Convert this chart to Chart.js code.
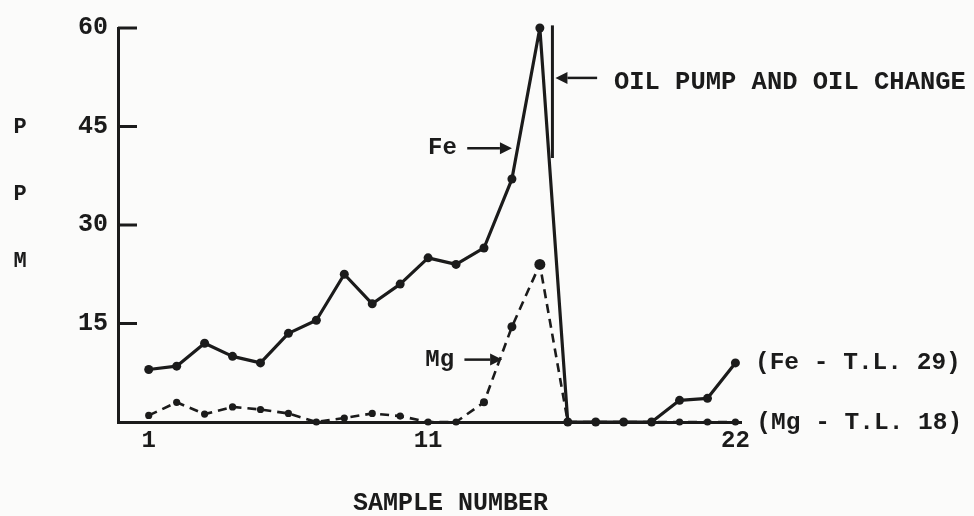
<!DOCTYPE html>
<html>
<head>
<meta charset="utf-8">
<title>Fe and Mg by sample</title>
<script src="https://cdn.jsdelivr.net/npm/chart.js@4.4.0/dist/chart.umd.min.js"></script>
<style>
  html, body { margin: 0; padding: 0; background: #fbfbfa; }
  canvas { display: block; }
</style>
</head>
<body>
<canvas id="ppmChart" width="974" height="516"></canvas>
<script>
  // Sample numbers and readings (ppm)
  const samples  = [1, 2, 3, 4, 5, 6, 7, 8, 9, 10, 11, 12, 13, 14, 15, 16, 17, 18, 19, 20, 21, 22];
  const feValues = [8, 8.5, 12, 10, 9, 13.5, 15.5, 22.5, 18, 21, 25, 24, 26.5, 37, 60, 0, 0, 0, 0, 3.3, 3.6, 9];
  const mgValues = [1, 3, 1.2, 2.3, 1.9, 1.3, 0, 0.6, 1.3, 0.9, 0, 0, 3, 14.5, 24, 0, 0, 0, 0, 0, 0, 0];
  const yTicks = [15, 30, 45, 60];
  const xTicks = [1, 11, 22];

  const ink = '#1b1b1b';
  const mono = '"Liberation Mono", "DejaVu Sans Mono", monospace';

  const toPoints = vals => samples.map((s, i) => ({ x: s, y: vals[i] }));

  // filled arrow head at (x2, y2)
  function arrow(ctx, x1, y1, x2, y2) {
    const ang = Math.atan2(y2 - y1, x2 - x1);
    const len = 12, half = 6;
    ctx.beginPath();
    ctx.moveTo(x1, y1);
    ctx.lineTo(x2 - Math.cos(ang) * len, y2 - Math.sin(ang) * len);
    ctx.stroke();
    ctx.beginPath();
    ctx.moveTo(x2, y2);
    ctx.lineTo(x2 - Math.cos(ang) * len - Math.sin(ang) * half, y2 - Math.sin(ang) * len + Math.cos(ang) * half);
    ctx.lineTo(x2 - Math.cos(ang) * len + Math.sin(ang) * half, y2 - Math.sin(ang) * len - Math.cos(ang) * half);
    ctx.closePath();
    ctx.fill();
  }

  // inner tick marks, labels, arrows and the oil change marker
  const notes = {
    id: 'notes',
    afterDraw(chart) {
      const { ctx, scales: { x, y }, chartArea } = chart;
      ctx.save();
      ctx.strokeStyle = ink;
      ctx.fillStyle = ink;
      ctx.lineCap = 'butt';

      // y ticks point into the plot
      ctx.lineWidth = 3;
      yTicks.forEach(v => {
        const py = y.getPixelForValue(v);
        ctx.beginPath();
        ctx.moveTo(chartArea.left, py);
        ctx.lineTo(chartArea.left + 19, py);
        ctx.stroke();
      });

      // oil pump / oil change bracket
      const bx = x.getPixelForValue(15.45);
      ctx.lineWidth = 3;
      ctx.beginPath();
      ctx.moveTo(bx, y.getPixelForValue(60.4));
      ctx.lineTo(bx, y.getPixelForValue(40.2));
      ctx.stroke();
      ctx.lineWidth = 2.5;
      arrow(ctx, x.getPixelForValue(17.05), y.getPixelForValue(52.4), bx + 3, y.getPixelForValue(52.4));

      ctx.textBaseline = 'middle';
      ctx.textAlign = 'left';
      ctx.font = 'bold 25.5px ' + mono;
      ctx.fillText('OIL PUMP AND OIL CHANGE', x.getPixelForValue(17.65), y.getPixelForValue(51.7));

      // series labels with arrows
      ctx.font = 'bold 24px ' + mono;
      ctx.fillText('Fe', x.getPixelForValue(11.0), y.getPixelForValue(41.7));
      arrow(ctx, x.getPixelForValue(12.4), y.getPixelForValue(41.7), x.getPixelForValue(14.0), y.getPixelForValue(41.7));
      ctx.fillText('Mg', x.getPixelForValue(10.9), y.getPixelForValue(9.5));
      arrow(ctx, x.getPixelForValue(12.3), y.getPixelForValue(9.5), x.getPixelForValue(13.65), y.getPixelForValue(9.5));

      // threshold limits at the end of each line
      ctx.font = 'bold 24.5px ' + mono;
      ctx.fillText('(Fe - T.L. 29)', x.getPixelForValue(22.7), y.getPixelForValue(9.0));
      ctx.fillText('(Mg - T.L. 18)', x.getPixelForValue(22.75), y.getPixelForValue(-0.2));

      // axis titles
      ctx.textAlign = 'center';
      ctx.font = 'bold 25px ' + mono;
      ctx.fillText('SAMPLE NUMBER', x.getPixelForValue(11.8), chart.height - 12);

      ctx.font = 'bold 22px ' + mono;
      [['P', 44.8], ['P', 34.7], ['M', 24.4]].forEach(([t, v]) => {
        ctx.fillText(t, 20, y.getPixelForValue(v));
      });
      ctx.restore();
    }
  };

  const ctx = document.getElementById('ppmChart').getContext('2d');
  const ppmChart = new Chart(ctx, {
    type: 'line',
    data: {
      datasets: [{
        label: 'Fe',
        data: toPoints(feValues),
        borderColor: ink,
        borderWidth: 3.2,
        borderJoinStyle: 'round',
        pointRadius: 4.5,
        pointBackgroundColor: ink,
        pointBorderWidth: 0,
        tension: 0,
        clip: false
      }, {
        label: 'Mg',
        data: toPoints(mgValues),
        borderColor: ink,
        borderWidth: 2.6,
        borderDash: [9, 6],
        borderJoinStyle: 'round',
        pointRadius: [3.6, 3.6, 3.6, 3.6, 3.6, 3.6, 3.6, 3.6, 3.6, 3.6, 3.6, 3.6, 4, 4.5, 5.5, 4, 3.6, 3.6, 3.6, 3.6, 3.6, 3.6],
        pointBackgroundColor: ink,
        pointBorderWidth: 0,
        tension: 0,
        clip: false
      }]
    },
    options: {
      responsive: false,
      animation: false,
      layout: { padding: { top: 28, right: 233, left: 0, bottom: 0 } },
      plugins: {
        legend: { display: false },
        tooltip: { enabled: false }
      },
      scales: {
        x: {
          type: 'linear',
          min: -0.1,
          max: 22.2,
          grid: { display: false, drawTicks: false },
          border: { display: true, width: 3, color: ink },
          ticks: {
            color: ink,
            font: { family: mono, size: 24, weight: 'bold' },
            padding: 5,
            autoSkip: false,
            maxRotation: 0
          },
          afterBuildTicks: scale => { scale.ticks = xTicks.map(v => ({ value: v })); },
          afterFit: scale => { scale.height = 94; }
        },
        y: {
          min: 0,
          max: 60,
          grid: { display: false, drawTicks: false },
          border: { display: true, width: 3, color: ink },
          ticks: {
            color: ink,
            font: { family: mono, size: 25, weight: 'bold' },
            padding: 10
          },
          afterBuildTicks: scale => { scale.ticks = yTicks.map(v => ({ value: v })); },
          afterFit: scale => { scale.width = 118; }
        }
      }
    },
    plugins: [notes]
  });
</script>
</body>
</html>
